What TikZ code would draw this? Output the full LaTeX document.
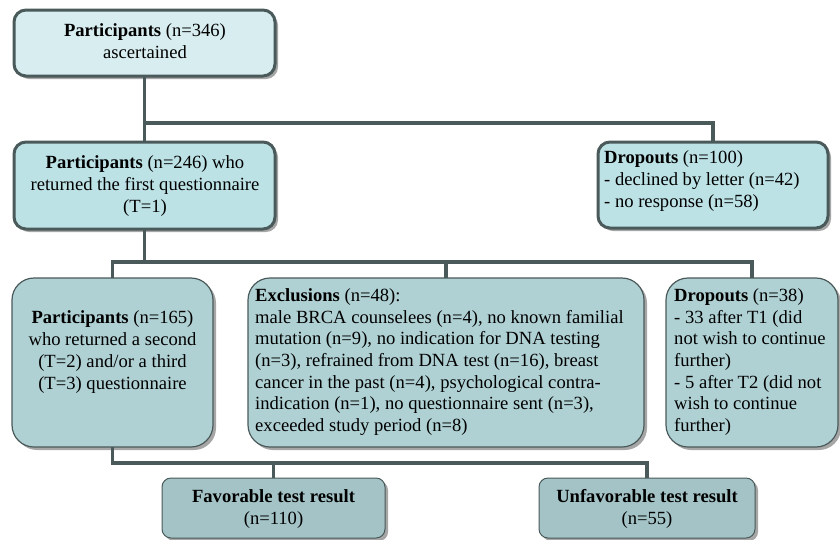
\documentclass[tikz,border=0pt]{standalone}
\usepackage{fontspec}
\setmainfont{Liberation Serif}
\usetikzlibrary{shadows}
\definecolor{bordc}{HTML}{4A5959}
\definecolor{fillA}{HTML}{D8EDF0}
\definecolor{fillB}{HTML}{BDE2E6}
\definecolor{fillC}{HTML}{B0D1D4}
\definecolor{fillD}{HTML}{A3C3C6}
\tikzset{
  boxbase/.style={draw=bordc, anchor=north west, inner sep=0pt, outer sep=0pt,
    drop shadow={shadow xshift=3pt, shadow yshift=-3pt, fill=black!35, opacity=1}},
  boxthick/.style={boxbase, line width=3pt, rounded corners=12pt},
  boxmid/.style={boxbase, line width=1.2pt, rounded corners=22pt, fill=fillC},
  boxlow/.style={boxbase, line width=1pt, rounded corners=9pt, fill=fillD},
  conn/.style={draw=bordc, line width=3.5pt},
  txt/.style={inner sep=0pt, font=\fontsize{18.6}{21.7}\selectfont, text=black},
}
\begin{document}
\begin{tikzpicture}[x=1pt,y=-1pt]
\useasboundingbox (0,0) rectangle (840,539);
% boxes
\node[boxthick, fill=fillA, minimum width=261pt, minimum height=66pt] (box1) at (14,10) {};
\node[boxthick, fill=fillB, minimum width=261pt, minimum height=87pt] (box2) at (14,142) {};
\node[boxthick, fill=fillB, minimum width=230pt, minimum height=86pt] (drop1) at (598,142) {};
\node[boxmid, minimum width=201pt, minimum height=169pt] (p165) at (12,278) {};
\node[boxmid, minimum width=396pt, minimum height=169pt] (excl) at (248,278) {};
\node[boxmid, minimum width=172pt, minimum height=169pt] (drop38) at (666,278) {};
\node[boxlow, minimum width=223pt, minimum height=60pt] (fav) at (162,478) {};
\node[boxlow, minimum width=216pt, minimum height=60pt] (unfav) at (539,478) {};
% connectors
\coordinate (j1) at (144.5,123);
\coordinate (j2) at (144.5,262);
\coordinate (j3) at (112.5,463);
\draw[conn] (box1.south) -- (box2.north);
\draw[conn] (j1) -| (drop1.north);
\draw[conn] (box2.south) -- (j2);
\draw[conn] (p165.north) |- (j2) -| (drop38.north);
\draw[conn] (excl.north) -- (excl.north |- j2);
\draw[conn] (p165.south) -- (j3) -| (unfav.north);
\draw[conn] (fav.north) -- (fav.north |- j3);
% texts
\node[txt, align=center] (t1) at (145,41) {\textbf{Participants} (n=346)\\ascertained};
\node[txt, align=center] (t2) at (145,186) {\textbf{Participants} (n=246) who\\returned the first questionnaire\\(T=1)};
\node[txt, align=left, anchor=west] (td1) at (604,181) {\textbf{Dropouts} (n=100)\\- declined by letter (n=42)\\- no response (n=58)};
\node[txt, align=center] (tp165) at (112.5,352) {\textbf{Participants} (n=165)\\who returned a second\\(T=2) and/or a third\\(T=3) questionnaire};
\node[txt, align=left, anchor=west] (texcl) at (255,362) {\textbf{Exclusions} (n=48):\\male BRCA counselees (n=4), no known familial\\mutation (n=9), no indication for DNA testing\\(n=3), refrained from DNA test (n=16), breast\\cancer in the past (n=4), psychological contra-\\indication (n=1), no questionnaire sent (n=3),\\exceeded study period (n=8)};
\node[txt, align=left, anchor=west] (td38) at (674,362) {\textbf{Dropouts} (n=38)\\- 33 after T1 (did\\not wish to continue\\further)\\- 5 after T2 (did not\\wish to continue\\further)};
\node[txt, align=center] (tfav) at (273.5,509) {\textbf{Favorable test result}\\(n=110)};
\node[txt, align=center] (tunfav) at (647,509) {\textbf{Unfavorable test result}\\(n=55)};
\end{tikzpicture}
\end{document}
